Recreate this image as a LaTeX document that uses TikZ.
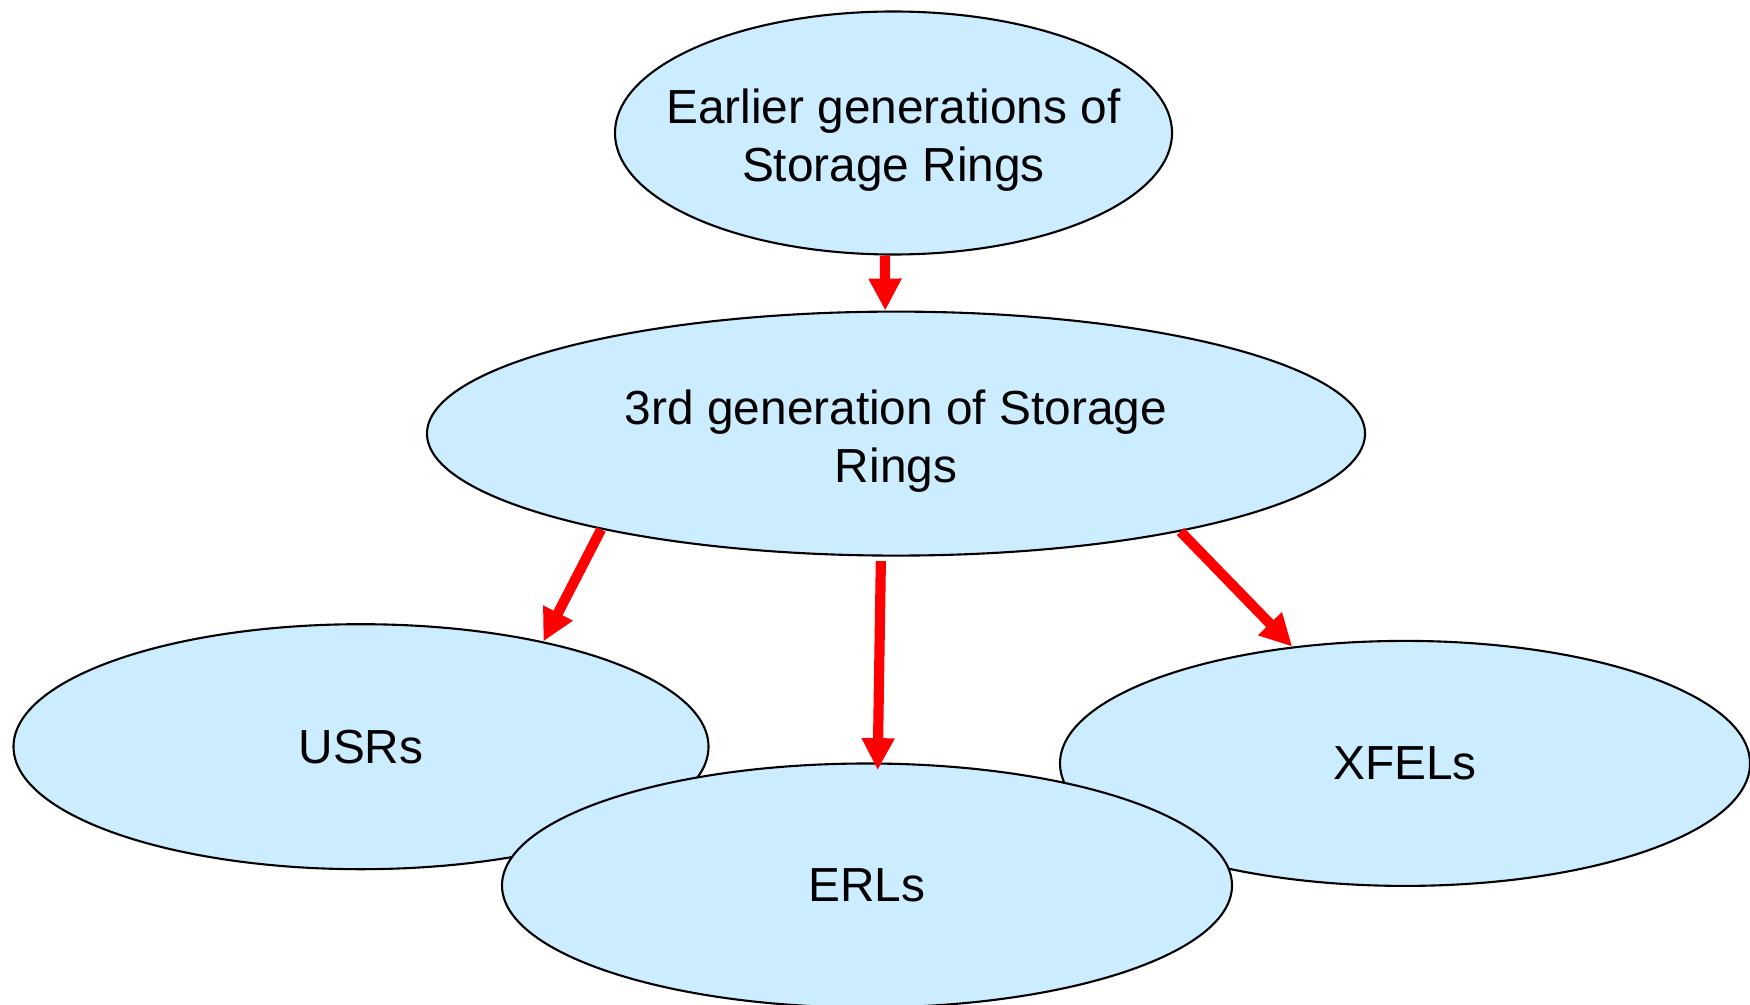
\documentclass[tikz,border=0pt]{standalone}
\usepackage{fontspec}
\setmainfont{Liberation Sans}
\usepackage{xcolor}
\usetikzlibrary{
  positioning,
  shapes.geometric,
  arrows.meta
}
\definecolor{ringblue}{RGB}{204,236,255}

\begin{document}
\begin{tikzpicture}[
  ring/.style={draw, ellipse, fill=ringblue, line width=0.6pt, inner sep=0pt, align=center, font=\fontsize{13.6}{16.5}\selectfont},
  link/.style={draw=red, line width=2.9pt, -{Triangle[length=0.32cm, width=0.31cm]}}
]
\useasboundingbox (0,0) rectangle (17.5,-10.05);

% Storage rings
\node[ring, inner xsep=-0.6cm, minimum width=5.57cm, minimum height=2.43cm] (earlier) at (8.935,-1.33) {\rule{0pt}{14pt}Earlier generations of\\Storage Rings};
\node[ring, minimum width=9.38cm, minimum height=2.44cm] (third) at (8.96,-4.336) {\rule{0pt}{14.4pt}3rd generation of Storage\\Rings};

% Successors
\node[ring, minimum width=6.95cm, minimum height=2.45cm] (usr) at (3.61,-7.467) {USRs};
\node[ring, minimum width=6.9cm, minimum height=2.45cm] (xfel) at (14.05,-7.634) {XFELs};
\node[ring, minimum width=7.3cm, minimum height=2.44cm] (erl) at (8.67,-8.855) {ERLs};

% Arrows
\draw[link] (earlier.266) -- (third.95);
\draw[link] (third.198.9) -- (usr.30.7);
\draw[link, shorten <=0.045cm, shorten >=-0.076cm] (third.263) -- (erl.85);
\draw[link] (third.341.8) -- (xfel.134);

\end{tikzpicture}
\end{document}
